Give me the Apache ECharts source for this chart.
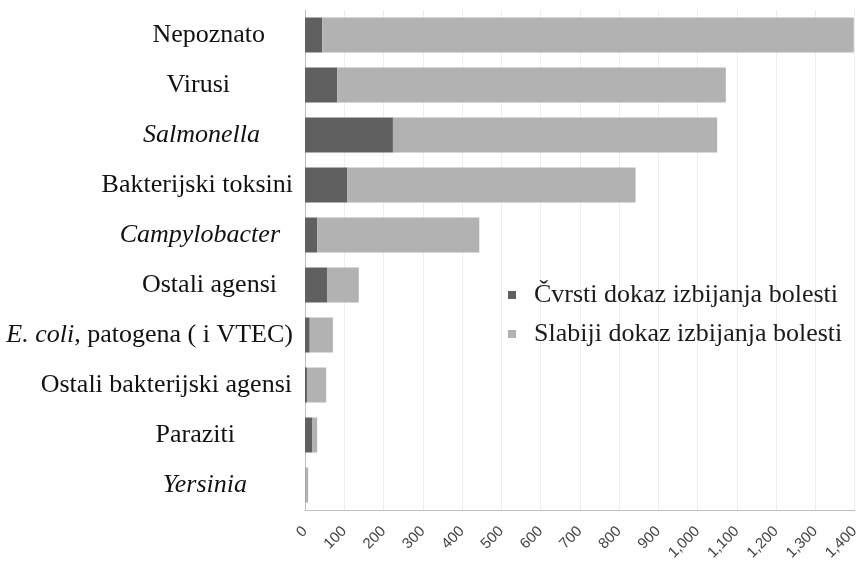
<!DOCTYPE html>
<html><head><meta charset="utf-8">
<script src="https://cdn.jsdelivr.net/npm/echarts@6/dist/echarts.min.js"></script>
<style>html,body{margin:0;padding:0;background:#fff}#c{width:862px;height:568px}</style>
</head><body><div id="c"></div>
<script>
var categories = ['Nepoznato','Virusi','Salmonella','Bakterijski toksini','Campylobacter','Ostali agensi','E. coli, patogena ( i VTEC)','Ostali bakterijski agensi','Paraziti','Yersinia'];
var strong = [44, 82, 224, 108, 31, 56, 12, 5, 19, 1];
var weak = [1354, 990, 826, 734, 413, 81, 59, 49, 12, 7];
var seriesNames = ['Čvrsti dokaz izbijanja bolesti','Slabiji dokaz izbijanja bolesti'];
var xTicks = {min: 0, max: 1400, interval: 100};

// label styling (right padding per label, to reproduce the original's uneven alignment)
var labelPadRight = [28, 63, 33, 0, 13, 16, 0, 1, 58, 46];
var italicCats = {'Salmonella':1,'Campylobacter':1,'Yersinia':1};
var FONT = 'Liberation Serif';
var FS = 26;

var rich = {};
labelPadRight.forEach(function(p, k){
  rich['n' + k] = {fontFamily: FONT, fontSize: FS, color: '#111', padding: [0, p, 0, 0]};
  rich['i' + k] = {fontFamily: FONT, fontSize: FS, fontStyle: 'italic', color: '#111', padding: [0, p, 0, 0]};
});
rich.ie = {fontFamily: FONT, fontSize: FS, fontStyle: 'italic', color: '#111'};

var chart = echarts.init(document.getElementById('c'));
chart.setOption({
  animation: false,
  backgroundColor: '#fff',
  grid: {left: 305, right: 6, top: 10, bottom: 58, containLabel: false},
  legend: {
    orient: 'vertical', left: 503, top: 277, itemWidth: 8, itemHeight: 8, icon: 'rect', itemGap: 13,
    textStyle: {fontFamily: FONT, fontSize: FS, lineHeight: 26, color: '#1a1a1a', padding: [0, 0, 0, 13]},
    data: seriesNames
  },
  xAxis: {
    type: 'value', min: xTicks.min, max: xTicks.max, interval: xTicks.interval,
    axisLine: {show: true, lineStyle: {color: '#bfbfbf'}},
    axisTick: {show: false},
    splitLine: {lineStyle: {color: '#eeeeee'}},
    axisLabel: {rotate: 45, margin: 19, color: '#444', fontFamily: 'Liberation Sans', fontSize: 15,
      formatter: function(v){ return v.toString().replace(/\B(?=(\d{3})+(?!\d))/g, ','); }}
  },
  yAxis: {
    type: 'category', data: categories, inverse: true,
    axisLine: {show: true, lineStyle: {color: '#bfbfbf'}},
    axisTick: {show: false},
    axisLabel: {
      margin: 12, color: '#111', fontFamily: FONT, fontSize: FS,
      formatter: function(v, k){
        if (italicCats[v]) return '{i' + k + '|' + v + '}';
        if (v.indexOf('E. coli') === 0) return '{ie|E. coli}{n' + k + '|' + v.slice(7) + '}';
        return '{n' + k + '|' + v + '}';
      },
      rich: rich
    }
  },
  series: [
    {name: seriesNames[0], type: 'bar', stack: 'a', data: strong, barWidth: '70%', itemStyle: {color: '#606060'}},
    {name: seriesNames[1], type: 'bar', stack: 'a', data: weak, barWidth: '70%', itemStyle: {color: '#b2b2b2'}}
  ]
});
</script></body></html>
